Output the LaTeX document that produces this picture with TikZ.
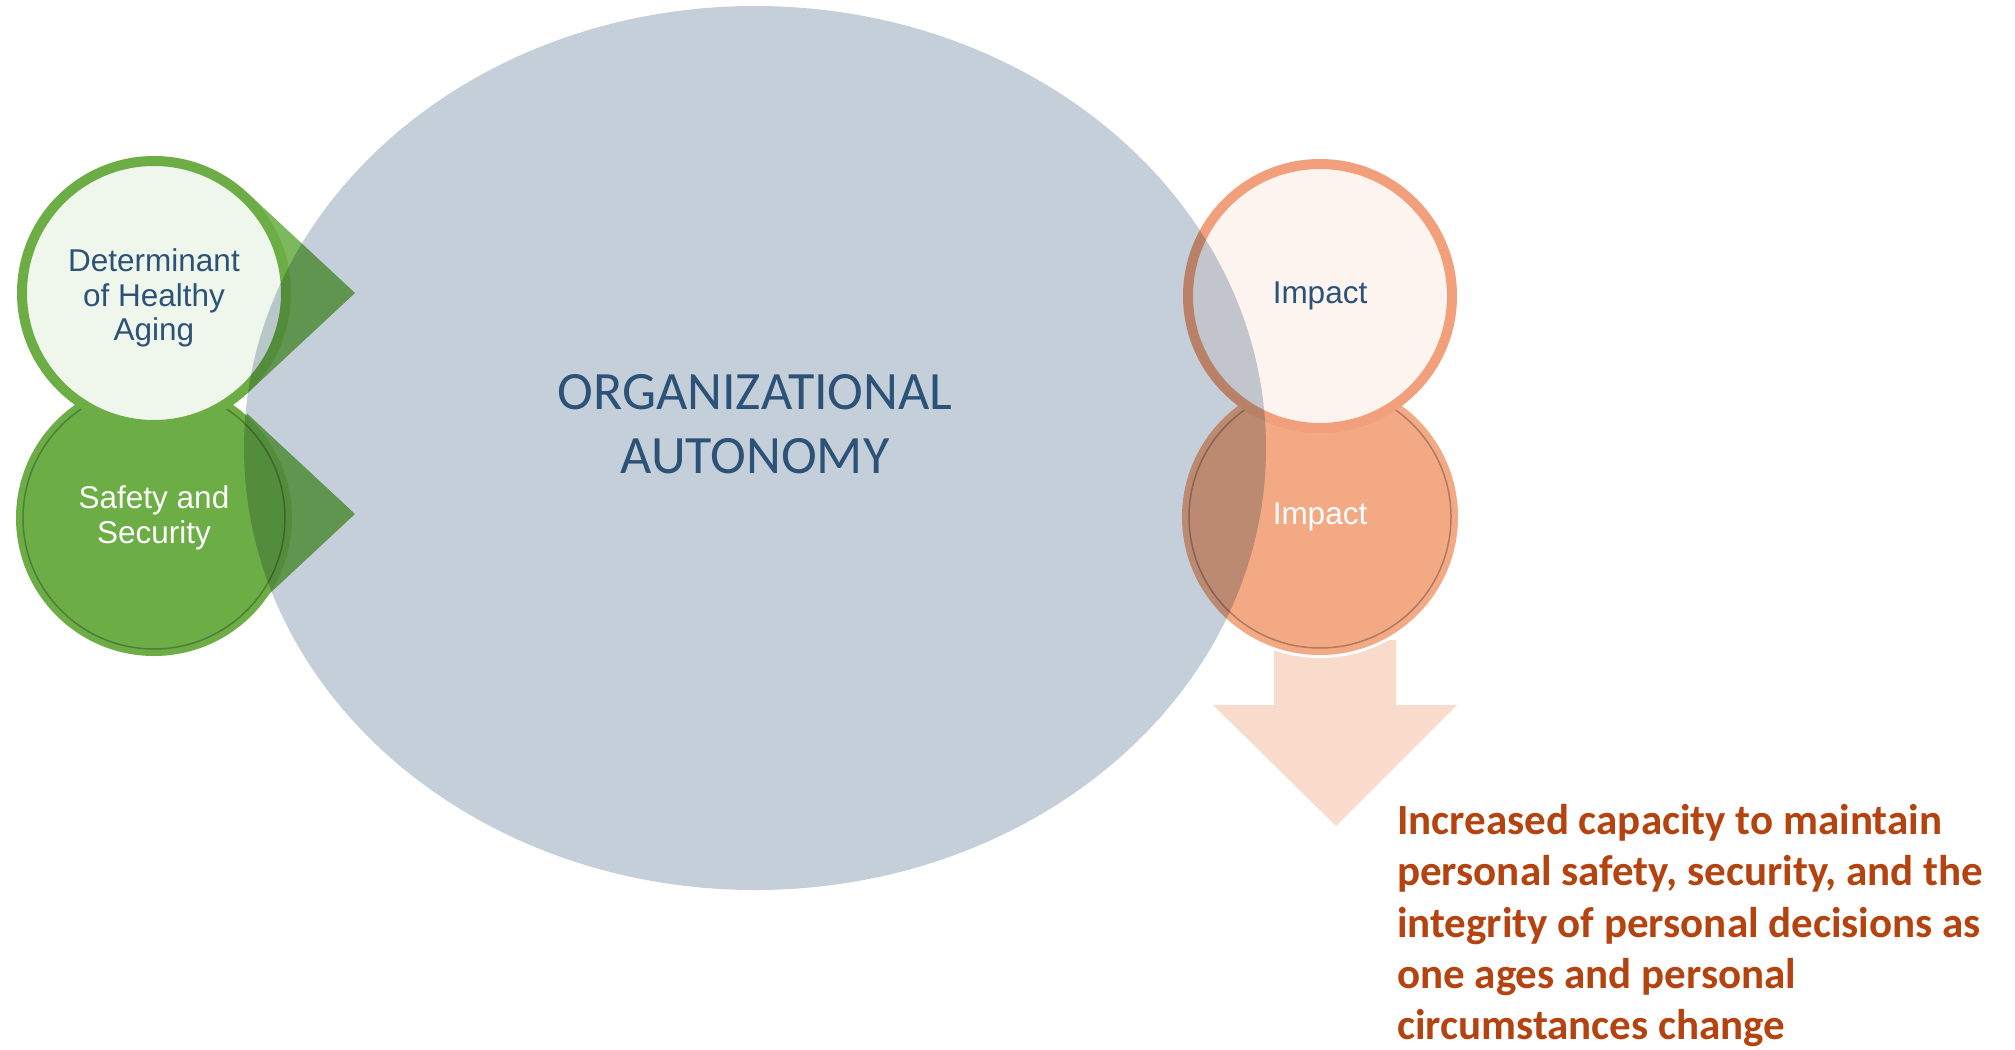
\documentclass[tikz,border=0pt]{standalone}
\usepackage{fontspec}
\setmainfont{Liberation Sans}
\newfontfamily\calibri{Carlito}
\usetikzlibrary{positioning,shapes.geometric}

\definecolor{slate}{HTML}{C5CFDA}
\definecolor{leaf}{HTML}{6CAD45}
\definecolor{paleleaf}{HTML}{EFF6EB}
\definecolor{tipleaf}{HTML}{7DB85E}
\definecolor{darkleaf}{HTML}{4E7E3A}
\definecolor{peach}{HTML}{F4A985}
\definecolor{ringpeach}{HTML}{F1A07B}
\definecolor{palepeach}{HTML}{FDF3EF}
\definecolor{arrowpeach}{HTML}{F9DBCB}
\definecolor{darkpeach}{HTML}{B07A62}
\definecolor{navy}{HTML}{2C5278}
\definecolor{rust}{HTML}{B4430F}

\begin{document}
\begin{tikzpicture}[x=1pt, y=-1pt, every node/.style={circle, inner sep=0pt}]

\tikzstyle{ring}=[minimum size=264pt, line width=10pt, outer sep=5pt]
\tikzstyle{full}=[minimum size=262pt, line width=1.5pt, outer sep=6pt]
\tikzstyle{label}=[font=\fontsize{31.5}{34.7}\selectfont, align=center]
\tikzstyle{shade}=[preaction={fill=black, opacity=0.18, transform canvas={xshift=2pt, yshift=-4pt}}]

\useasboundingbox (0,0) rectangle (2015,1049);

% left side
\node [full] (safety) at (154,514) {};
\node [ring] (aging) at (154,293) {};
\fill [tipleaf] ([xshift=201pt]safety.center) -- (safety.47) -- (safety.center) -- (safety.-47) -- cycle;
\node [full, label, fill=leaf, draw=darkleaf, preaction={draw=leaf, line width=14pt},
  text=white] at ([yshift=-4pt]safety) {Safety and\\Security};
\fill [tipleaf] ([xshift=201pt]aging.center) -- (aging.47) -- (aging.center) -- (aging.-47) -- cycle;
\node [ring, shade, fill=paleleaf, draw=leaf] at (aging) {};
\node [label, text=navy] at ([yshift=-5pt]aging) {Determinant\\of Healthy\\Aging};

% right side
\fill [arrowpeach] (1274,640) -- (1274,705) -- (1213,705) -- (1336,826)
  -- (1457,705) -- (1396,705) -- (1396,640) -- cycle;
\node [full, label, fill=peach, draw=darkpeach,
  preaction={draw=white, line width=20pt}, preaction={draw=peach, line width=14pt},
  text=white] (impactlow) at (1320,517) {Impact};
\node [ring, shade, label, fill=palepeach, draw=ringpeach, text=navy] (impacthigh) at (1320,296) {Impact};

% centre
\begin{scope}[blend mode=multiply]
\node [ellipse, fill=slate, minimum width=1022pt, minimum height=884pt] (autonomy) at (755,448) {};
\end{scope}
\node [rectangle, align=center, text=navy, font=\calibri\fontsize{54}{64}\selectfont]
  (title) at (755,424) {ORGANIZATIONAL\\AUTONOMY};

\node [rectangle, anchor=north west, align=left, text=rust,
  font=\calibri\bfseries\fontsize{43}{51.4}\selectfont] (result) at (1397,804)
  {Increased capacity to maintain\\personal safety, security, and the\\integrity of personal decisions as\\one ages and personal\\circumstances change};
\end{tikzpicture}
\end{document}
